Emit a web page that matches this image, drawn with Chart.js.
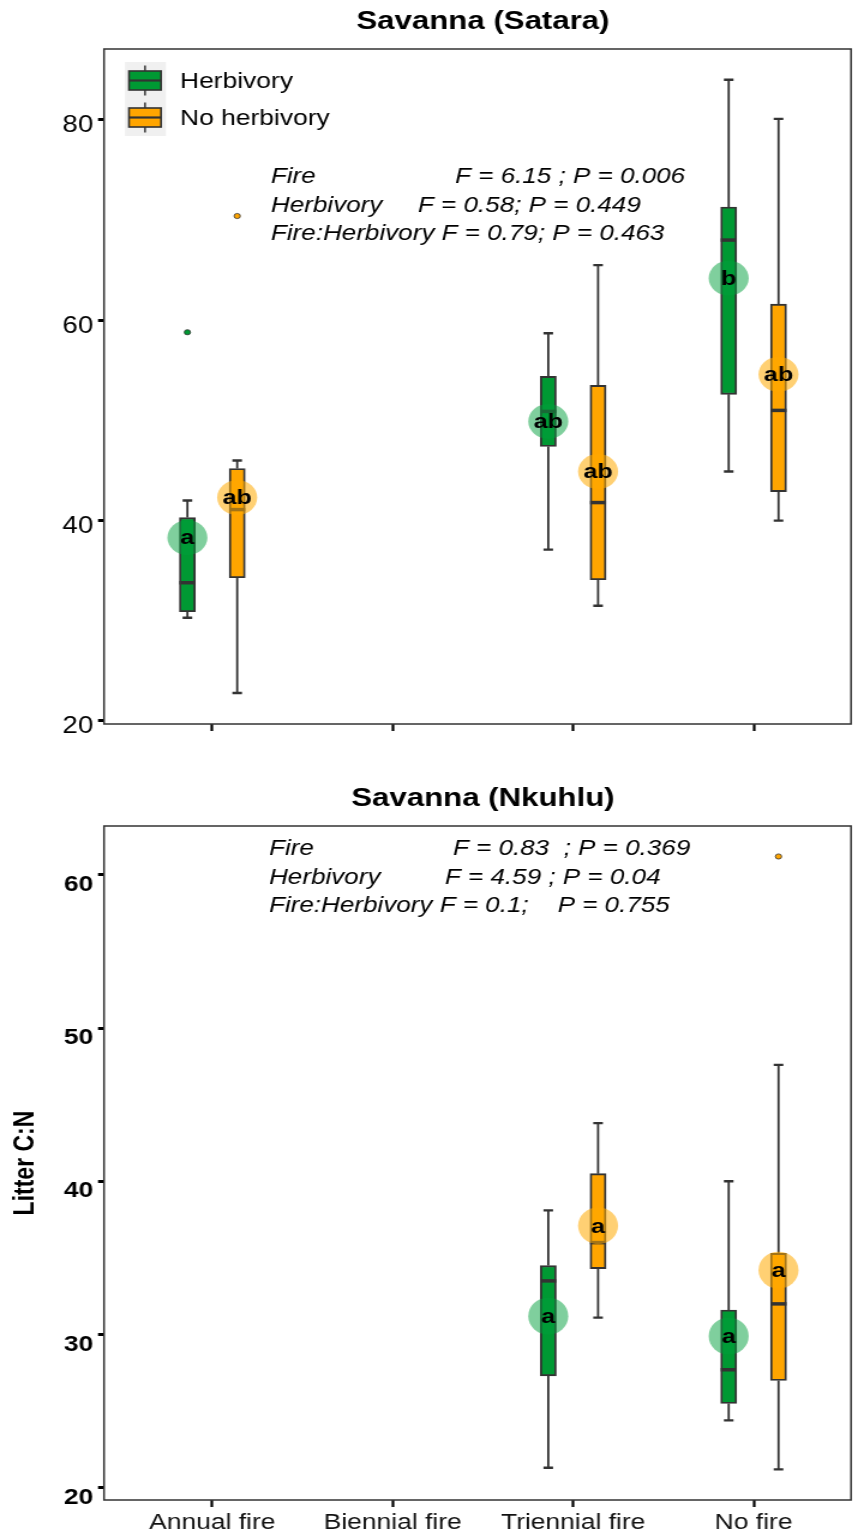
<!DOCTYPE html>
<html>
<head>
<meta charset="utf-8">
<title>Litter C:N</title>
<script src="https://cdn.jsdelivr.net/npm/chart.js@4.4.1/dist/chart.umd.min.js"></script>
<style>
  html, body { margin: 0; padding: 0; background: #fff; overflow: hidden; }
  #wrap { position: relative; width: 856px; height: 1534px; overflow: hidden; }
  /* the figure is laid out 1.2x wider than it is drawn */
  canvas { position: absolute; left: 0; transform: scaleX(1.2); transform-origin: 0 0; }
  #satara { top: 0; }
  #nkuhlu { top: 760px; }
</style>
</head>
<body>
<div id="wrap">
  <canvas id="satara" width="714" height="760"></canvas>
  <canvas id="nkuhlu" width="714" height="774"></canvas>
</div>
<script>
const categories = ['Annual fire', 'Biennial fire', 'Triennial fire', 'No fire'];
const seriesNames = ['Herbivory', 'No herbivory'];
const seriesFill = ['#009933', '#FFA500'];
const seriesHalo = ['rgba(0,160,60,0.5)', 'rgba(255,170,0,0.55)'];

// [lower whisker, Q1, median, Q3, upper whisker] per fire treatment
const sataraHerb   = [[30.3, 30.9, 33.8, 40.3, 42.0], null, [37.1, 47.4, 50.9, 54.4, 58.7], [44.9, 52.6, 68.0, 71.3, 84.0]];
const sataraNoHerb = [[22.8, 34.3, 41.1, 45.2, 46.0], null, [31.5, 34.1, 41.8, 53.5, 65.5], [40.0, 42.9, 51.0, 61.6, 80.1]];
const sataraHerbMean   = [38.3, null, 49.9, 64.2];
const sataraNoHerbMean = [42.3, null, 44.9, 54.6];
const sataraHerbLetters   = ['a', null, 'ab', 'b'];
const sataraNoHerbLetters = ['ab', null, 'ab', 'ab'];
const sataraHerbOutliers   = [[58.8], [], [], []];
const sataraNoHerbOutliers = [[70.4], [], [], []];
const sataraTerms = ['Fire', 'Herbivory', 'Fire:Herbivory'];
const sataraTests = ['F = 6.15 ; P = 0.006', 'F = 0.58; P = 0.449', 'F = 0.79; P = 0.463'];
const sataraTicks = [20, 40, 60, 80];

const nkuhluHerb   = [null, null, [21.3, 27.3, 33.5, 34.5, 38.1], [24.4, 25.5, 27.7, 31.6, 40.0]];
const nkuhluNoHerb = [null, null, [31.1, 34.3, 36.0, 40.5, 43.8], [21.2, 27.0, 32.0, 35.3, 47.6]];
const nkuhluHerbMean   = [null, null, 31.2, 29.9];
const nkuhluNoHerbMean = [null, null, 37.1, 34.2];
const nkuhluHerbLetters   = [null, null, 'a', 'a'];
const nkuhluNoHerbLetters = [null, null, 'a', 'a'];
const nkuhluHerbOutliers   = [[], [], [], []];
const nkuhluNoHerbOutliers = [[], [], [], [61.2]];
const nkuhluTerms = ['Fire', 'Herbivory', 'Fire:Herbivory'];
const nkuhluTests = ['F = 0.83  ; P = 0.369', 'F = 4.59 ; P = 0.04', 'F = 0.1;    P = 0.755'];
const nkuhluTicks = [20, 30, 40, 50, 60];

const FONT = '"Liberation Sans", Arial, sans-serif';
const dodge = [-0.138, 0.138];
const BOX_W = 13.3;

const boxExtras = {
  id: 'boxExtras',
  beforeDatasetsDraw(chart, args, o) {
    const {ctx, scales: {x, y}} = chart;
    ctx.save();
    ctx.strokeStyle = '#333';
    o.series.forEach((s, si) => {
      s.stats.forEach((st, ci) => {
        if (!st) return;
        const cx = x.getPixelForValue(ci + 1 + dodge[si]);
        const lo = y.getPixelForValue(st[0]), q1 = y.getPixelForValue(st[1]);
        const q3 = y.getPixelForValue(st[3]), hi = y.getPixelForValue(st[4]);
        ctx.lineWidth = 1.8;
        ctx.beginPath();
        ctx.moveTo(cx, hi); ctx.lineTo(cx, q3);
        ctx.moveTo(cx, q1); ctx.lineTo(cx, lo);
        ctx.stroke();
        ctx.lineWidth = 2.4;
        ctx.beginPath();
        ctx.moveTo(cx - 4, hi); ctx.lineTo(cx + 4, hi);
        ctx.moveTo(cx - 4, lo); ctx.lineTo(cx + 4, lo);
        ctx.stroke();
      });
    });
    ctx.restore();
  },
  afterDatasetsDraw(chart, args, o) {
    const {ctx, scales: {x, y}} = chart;
    ctx.save();
    // medians
    ctx.strokeStyle = '#333';
    ctx.lineWidth = 3.5;
    o.series.forEach((s, si) => {
      s.stats.forEach((st, ci) => {
        if (!st) return;
        const cx = x.getPixelForValue(ci + 1 + dodge[si]);
        const m = y.getPixelForValue(st[2]);
        ctx.beginPath();
        ctx.moveTo(cx - BOX_W / 2, m); ctx.lineTo(cx + BOX_W / 2, m);
        ctx.stroke();
      });
    });
    // group means with significance letters
    o.series.forEach((s, si) => {
      s.means.forEach((v, ci) => {
        if (v == null) return;
        const cx = x.getPixelForValue(ci + 1 + dodge[si]);
        const cy = y.getPixelForValue(v);
        ctx.fillStyle = seriesHalo[si];
        ctx.beginPath();
        ctx.ellipse(cx, cy, 16.7, o.haloRy, 0, 0, Math.PI * 2);
        ctx.fill();
        ctx.fillStyle = '#000';
        ctx.font = 'bold 21px ' + FONT;
        ctx.textAlign = 'center';
        ctx.textBaseline = 'middle';
        ctx.fillText(s.letters[ci], cx, cy + 1);
      });
    });
    ctx.restore();
  },
  afterDraw(chart, args, o) {
    const {ctx, chartArea: a, scales: {x}} = chart;
    ctx.save();
    ctx.strokeStyle = '#333';
    ctx.lineWidth = 1.5;
    ctx.strokeRect(a.left, a.top, a.right - a.left, a.bottom - a.top);

    ctx.fillStyle = '#000';
    ctx.textBaseline = 'middle';
    ctx.textAlign = 'center';
    ctx.font = 'bold 26px ' + FONT;
    ctx.fillText(o.title, x.getPixelForValue(2.5), o.titleY);

    ctx.textAlign = 'left';
    ctx.font = 'italic 21.7px ' + FONT;
    o.terms.forEach((t, i) => {
      const ty = o.statY[i];
      ctx.fillText(t, o.statX0, ty);
      const sx = o.statX[i] != null ? o.statX[i] : o.statX0 + ctx.measureText(t + ' ').width;
      ctx.fillText(o.tests[i], sx, ty);
    });

    if (o.legend) {
      ctx.fillStyle = '#f0f0f0';
      ctx.fillRect(104.2, 62, 34.1, 74);
      seriesNames.forEach((name, i) => {
        const cy = 80.5 + i * 37;
        const kx = 107.5, kw = 26.7, kh = 19;
        ctx.strokeStyle = '#333';
        ctx.lineWidth = 1.5;
        ctx.beginPath();
        ctx.moveTo(kx + kw / 2, cy - 15); ctx.lineTo(kx + kw / 2, cy + 15);
        ctx.stroke();
        ctx.fillStyle = seriesFill[i];
        ctx.fillRect(kx, cy - kh / 2, kw, kh);
        ctx.lineWidth = 1.6;
        ctx.strokeRect(kx, cy - kh / 2, kw, kh);
        ctx.lineWidth = 2.2;
        ctx.beginPath();
        ctx.moveTo(kx, cy); ctx.lineTo(kx + kw, cy);
        ctx.stroke();
        ctx.fillStyle = '#000';
        ctx.font = '22px ' + FONT;
        ctx.fillText(name, 150, cy + 1.5);
      });
    }
    ctx.restore();
  }
};

function makePanel(id, cfg) {
  const datasets = [];
  cfg.series.forEach((s, si) => {
    datasets.push({
      type: 'bar',
      label: seriesNames[si],
      data: s.stats.map((st, ci) => st ? {x: ci + 1 + dodge[si], y: [st[1], st[3]]} : null).filter(Boolean),
      backgroundColor: seriesFill[si],
      borderColor: '#333',
      borderWidth: 1.9,
      borderSkipped: false,
      barThickness: BOX_W,
      grouped: false,
      order: 2
    });
  });
  cfg.series.forEach((s, si) => {
    const pts = [];
    s.outliers.forEach((vals, ci) => vals.forEach(v => pts.push({x: ci + 1 + dodge[si], y: v})));
    datasets.push({
      type: 'scatter',
      label: seriesNames[si] + ' outliers',
      data: pts,
      backgroundColor: seriesFill[si],
      borderColor: '#333',
      borderWidth: 0.8,
      pointRadius: 2.6,
      order: 1
    });
  });

  return new Chart(document.getElementById(id), {
    type: 'bar',
    data: {datasets},
    plugins: [boxExtras],
    options: {
      responsive: false,
      animation: false,
      devicePixelRatio: 1,
      layout: {padding: {top: cfg.top, right: 1.5, left: 0, bottom: 0}},
      scales: {
        x: {
          type: 'linear',
          offset: false,
          min: 0.4,
          max: 4.54,
          afterBuildTicks: s => { s.ticks = categories.map((c, i) => ({value: i + 1})); },
          afterFit: s => { s.height = cfg.xHeight; },
          grid: {offset: false, drawOnChartArea: false, drawTicks: true, tickLength: 7, tickColor: '#000', tickWidth: 2.2},
          border: {display: false},
          ticks: {
            autoSkip: false,
            maxRotation: 0,
            padding: 3,
            color: '#111',
            font: {family: FONT, size: 22},
            callback: v => cfg.xLabels ? categories[v - 1] : ''
          }
        },
        y: {
          type: 'linear',
          min: cfg.yMin,
          max: cfg.yMax,
          afterBuildTicks: s => { s.ticks = cfg.yTicks.map(v => ({value: v})); },
          afterFit: s => { s.width = 86.7; },
          grid: {drawOnChartArea: false, drawTicks: true, tickLength: 5, tickColor: '#000', tickWidth: 3},
          border: {display: false},
          ticks: {
            padding: 4,
            labelOffset: cfg.labelOffset,
            color: '#000',
            font: {family: FONT, size: cfg.yBold ? 22 : 23, weight: cfg.yBold ? 'bold' : 'normal'},
            callback: v => String(v)
          },
          title: {
            display: !!cfg.yTitle,
            text: cfg.yTitle || '',
            color: '#000',
            font: {family: FONT, size: 23, weight: 'bold'},
            padding: {top: 8, bottom: 0}
          }
        }
      },
      plugins: {
        legend: {display: false},
        tooltip: {enabled: false},
        boxExtras: {
          series: cfg.series,
          title: cfg.title,
          titleY: cfg.titleY,
          terms: cfg.terms,
          tests: cfg.tests,
          statX0: cfg.statX0,
          statX: cfg.statX,
          statY: cfg.statY,
          haloRy: cfg.haloRy,
          legend: cfg.legend
        }
      }
    }
  });
}

makePanel('satara', {
  title: 'Savanna (Satara)',
  titleY: 22,
  top: 49,
  xHeight: 36,
  yMin: 19.7,
  yMax: 87.07,
  yTicks: sataraTicks,
  labelOffset: 6,
  yBold: false,
  xLabels: false,
  legend: true,
  haloRy: 17.5,
  terms: sataraTerms,
  tests: sataraTests,
  statX0: 225.8,
  statX: [379.2, 348.3, null],
  statY: [177, 205.5, 234],
  series: [
    {stats: sataraHerb, means: sataraHerbMean, letters: sataraHerbLetters, outliers: sataraHerbOutliers},
    {stats: sataraNoHerb, means: sataraNoHerbMean, letters: sataraNoHerbLetters, outliers: sataraNoHerbOutliers}
  ]
});

makePanel('nkuhlu', {
  title: 'Savanna (Nkuhlu)',
  titleY: 38.5,
  top: 66,
  xHeight: 34,
  yMin: 19.2,
  yMax: 63.19,
  yTicks: nkuhluTicks,
  labelOffset: 10,
  yBold: true,
  yTitle: 'Litter C:N',
  xLabels: true,
  legend: false,
  haloRy: 18.5,
  terms: nkuhluTerms,
  tests: nkuhluTests,
  statX0: 224.2,
  statX: [377.5, 370.8, null],
  statY: [89, 117.5, 146],
  series: [
    {stats: nkuhluHerb, means: nkuhluHerbMean, letters: nkuhluHerbLetters, outliers: nkuhluHerbOutliers},
    {stats: nkuhluNoHerb, means: nkuhluNoHerbMean, letters: nkuhluNoHerbLetters, outliers: nkuhluNoHerbOutliers}
  ]
});
</script>
</body>
</html>
